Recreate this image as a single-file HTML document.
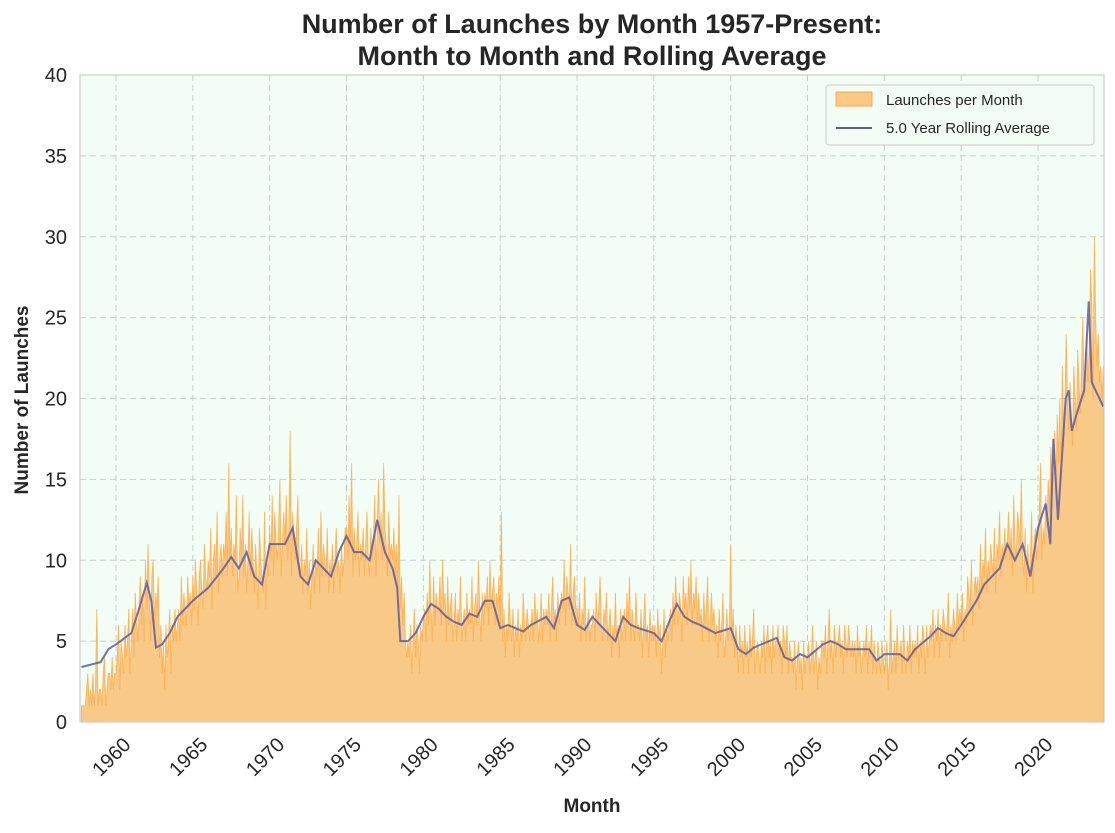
<!DOCTYPE html>
<html><head><meta charset="utf-8">
<style>
body{margin:0;background:#fff;font-family:"Liberation Sans",Arial,sans-serif;}
svg text{font-family:"Liberation Sans",Arial,sans-serif;fill:#262626;}
</style></head>
<body>
<svg id="chart" width="1115" height="828"></svg>
<script>
const startYear = 1957, startMonth = 9;
const monthlyLaunches = [
1,1,1,
1,2,3,1,2,1,3,1,2,7,1,2,
2,1,3,4,1,2,3,3,2,4,2,3,
3,4,6,2,5,4,3,6,4,5,7,3,
5,7,4,8,6,5,7,9,6,8,5,10,
7,11,8,5,9,10,6,8,7,9,4,6,
3,5,2,6,4,5,7,3,6,5,7,5,
6,7,5,9,6,8,7,6,9,7,8,6,
9,7,10,8,6,9,10,8,7,11,9,8,
10,9,12,7,10,11,9,13,8,10,11,9,
11,10,13,9,16,10,12,9,11,10,14,8,
9,12,10,14,9,11,8,10,13,9,12,10,
8,11,9,7,12,10,9,8,13,7,10,9,
12,10,14,9,13,11,10,12,15,9,11,13,
11,14,10,12,18,9,13,11,10,12,14,10,
9,11,8,10,9,12,8,10,7,9,11,8,
10,9,12,8,13,9,11,10,9,12,8,10,
9,11,8,10,12,9,10,8,11,9,10,12,
12,10,14,11,16,9,12,10,11,13,9,11,
10,12,9,11,13,10,9,12,10,11,14,9,
12,15,11,13,10,16,12,11,9,13,10,11,
10,12,9,11,8,14,7,9,6,8,5,4,
5,4,6,3,5,7,4,6,5,3,6,5,
6,7,5,8,6,10,7,5,9,6,8,7,
7,9,6,10,7,8,5,9,6,7,8,5,
6,8,5,7,6,9,5,6,7,5,8,6,
7,6,9,5,7,8,6,10,7,5,8,6,
8,7,9,6,10,7,8,9,6,8,7,9,
6,13,5,7,4,6,5,8,6,5,7,4,
6,5,7,4,6,5,8,6,5,7,6,5,
6,7,5,8,6,7,5,6,8,5,7,6,
7,6,8,5,7,9,6,7,5,8,6,7,
8,7,10,6,9,8,7,11,6,8,9,7,
7,6,8,5,7,6,9,5,6,7,5,6,
6,7,5,8,6,7,9,6,5,7,6,8,
5,6,7,4,6,5,8,5,6,4,7,5,
6,7,5,8,6,9,5,7,6,5,8,6,
6,5,7,4,6,8,5,6,4,7,5,6,
5,6,4,7,5,6,3,5,7,4,6,5,
6,7,5,8,6,9,7,6,8,7,5,9,
7,8,6,9,7,10,6,8,7,9,6,8,
6,7,5,8,6,7,9,5,6,8,6,7,
5,6,4,7,5,6,8,4,5,7,5,6,
11,5,7,4,6,5,3,6,4,5,3,6,
4,5,3,6,4,5,7,3,4,5,4,3,
5,4,6,3,5,6,4,5,3,6,4,5,
5,6,4,5,3,6,5,4,6,3,5,4,
4,3,5,2,4,5,3,4,2,5,3,4,
4,5,3,4,6,3,4,5,2,4,3,5,
5,4,6,3,5,7,4,5,3,6,4,5,
5,6,4,5,3,6,5,4,6,5,4,5,
4,5,3,6,4,5,3,4,5,4,6,3,
5,4,6,3,5,4,3,5,4,3,5,4,
3,4,5,2,4,7,3,4,5,3,6,4,
4,5,3,6,4,3,5,4,6,3,5,4,
5,4,6,3,5,4,6,5,3,6,4,5,
6,5,7,4,6,5,7,4,6,5,7,6,
5,6,8,4,6,5,7,6,5,8,6,7,
6,8,5,7,6,9,8,7,10,6,8,9,
8,9,7,11,8,10,9,12,8,10,9,11,
10,9,12,8,11,10,13,9,11,10,12,10,
11,13,10,12,9,14,11,10,13,12,11,15,
10,9,12,8,11,9,10,13,8,11,12,10,
11,13,16,10,12,11,14,12,15,13,17,14,
16,18,14,19,16,20,15,22,17,19,24,20,
18,21,19,17,22,20,18,23,21,19,22,25,
20,22,24,21,23,28,26,20,30,25,22,24,
21,22,20,22];
const rollYears = [1957.75,1959,1959.5,1960,1961,1961.5,1962,1962.3,1962.6,1963,1963.5,1964,1965,1966,1967,1967.5,1968,1968.5,1969,1969.5,1970,1971,1971.5,1972,1972.5,1973,1973.5,1974,1974.5,1975,1975.5,1976,1976.5,1977,1977.5,1978,1978.3,1978.5,1979,1979.5,1980,1980.5,1981,1981.5,1982,1982.5,1983,1983.5,1984,1984.5,1985,1985.5,1986,1986.5,1987,1988,1988.5,1989,1989.5,1990,1990.5,1991,1991.5,1992,1992.5,1993,1993.5,1994,1995,1995.5,1996,1996.5,1997,1997.5,1998,1999,2000,2000.5,2001,2001.5,2002,2003,2003.5,2004,2004.5,2005,2006,2006.5,2007,2007.5,2008,2009,2009.5,2010,2011,2011.5,2012,2013,2013.5,2014,2014.5,2015,2016,2016.5,2017,2017.5,2018,2018.5,2019,2019.5,2020,2020.5,2020.8,2021,2021.3,2021.8,2022,2022.2,2022.5,2023,2023.3,2023.5,2024.25];
const rollValues = [3.4,3.7,4.5,4.8,5.5,7,8.6,7.5,4.6,4.8,5.5,6.5,7.5,8.3,9.5,10.2,9.5,10.5,9,8.5,11,11,12,9,8.5,10,9.5,9,10.5,11.5,10.5,10.5,10,12.5,10.5,9.5,8.3,5,5,5.5,6.5,7.3,7,6.5,6.2,6,6.7,6.5,7.5,7.5,5.8,6,5.8,5.6,6,6.5,5.8,7.5,7.7,6,5.7,6.5,6,5.5,5,6.5,6,5.8,5.5,5,6.2,7.3,6.5,6.2,6,5.5,5.8,4.5,4.2,4.6,4.8,5.2,4,3.8,4.2,4,4.8,5,4.8,4.5,4.5,4.5,3.8,4.2,4.2,3.8,4.5,5.3,5.8,5.5,5.3,6,7.5,8.5,9,9.5,11,10,11,9,12,13.5,11,17.5,12.5,20,20.5,18,19,20.5,26,21,19.5];
const yTicks = [0,5,10,15,20,25,30,35,40];
const xTicks = [1960,1965,1970,1975,1980,1985,1990,1995,2000,2005,2010,2015,2020];

const NS='http://www.w3.org/2000/svg';
const svg=document.getElementById('chart');
const L=80,R=1104,T=75,B=722;
const xS=y=>116+(y-1960)*(1038-116)/60;
const yS=v=>B-(v/40)*(B-T);
function mk(tag,attrs,parent){const e=document.createElementNS(NS,tag);for(const k in attrs)e.setAttribute(k,attrs[k]);(parent||svg).appendChild(e);return e;}

const bg=mk('rect',{x:L,y:T,width:R-L,height:B-T,fill:'#f2fdf6'});



const grid=mk('g',{stroke:'#c8cfcb','stroke-dasharray':'6,4','stroke-width':1});


yTicks.forEach(v=>{mk('line',{x1:L,x2:R,y1:yS(v),y2:yS(v)},grid);});
xTicks.forEach(v=>{mk('line',{x1:xS(v),x2:xS(v),y1:T,y2:B},grid);});

let d='M'+xS(startYear+startMonth/12)+','+B;
monthlyLaunches.forEach((v,i)=>{d+=' L'+xS(startYear+(startMonth+i)/12).toFixed(2)+','+yS(v).toFixed(2);});
d+=' L'+xS(startYear+(startMonth+monthlyLaunches.length-1)/12).toFixed(2)+','+B+' Z';
const area=mk('path',{d:d,fill:'#f8c987',stroke:'#ffa940','stroke-width':0.9,'stroke-opacity':0.8});



let ld='';
rollYears.forEach((y,i)=>{ld+=(i?' L':'M')+xS(y).toFixed(2)+','+yS(rollValues[i]).toFixed(2);});
const line=mk('path',{d:ld,fill:'none',stroke:'#5c5ca0','stroke-width':2,'stroke-opacity':0.85});



const frame=mk('rect',{x:L,y:T,width:R-L,height:B-T,fill:'none',stroke:'#cccccc','stroke-width':1.2});



yTicks.forEach(v=>{
const t=mk('text',{x:67,y:yS(v)+7,'text-anchor':'end','font-size':20});
t.textContent=v;


});
xTicks.forEach(v=>{
const x=xS(v);
const t=mk('text',{x:x+6,y:B+14,'text-anchor':'end','font-size':20,transform:`rotate(-45 ${x+6} ${B+14})`,dy:'0.7em'});
t.textContent=v;


});

const t1=mk('text',{x:592,y:33,'text-anchor':'middle','font-size':27,'font-weight':'bold'});
t1.textContent='Number of Launches by Month 1957-Present:';


const t2=mk('text',{x:592,y:65,'text-anchor':'middle','font-size':27,'font-weight':'bold'});
t2.textContent='Month to Month and Rolling Average';


const xl=mk('text',{x:592,y:812,'text-anchor':'middle','font-size':19,'font-weight':'bold'});
xl.textContent='Month';


const yl=mk('text',{x:28,y:400,'text-anchor':'middle','font-size':19,'font-weight':'bold',transform:'rotate(-90 28 400)'});
yl.textContent='Number of Launches';



const lg=mk('g',{});


mk('rect',{x:826,y:85,width:268,height:60,rx:3,fill:'#f2fdf6',stroke:'#cccccc'},lg);
const e1=mk('rect',{x:836,y:92,width:36,height:14,fill:'#f8c987',stroke:'#ffa940'},lg);


const l1=mk('text',{x:886,y:105,'font-size':15},lg);
l1.textContent='Launches per Month';


mk('line',{x1:836,x2:872,y1:128,y2:128,stroke:'#5c5ca0','stroke-width':2},lg);
const l2=mk('text',{x:886,y:133,'font-size':15},lg);
l2.textContent='5.0 Year Rolling Average';


</script>
</body></html>
